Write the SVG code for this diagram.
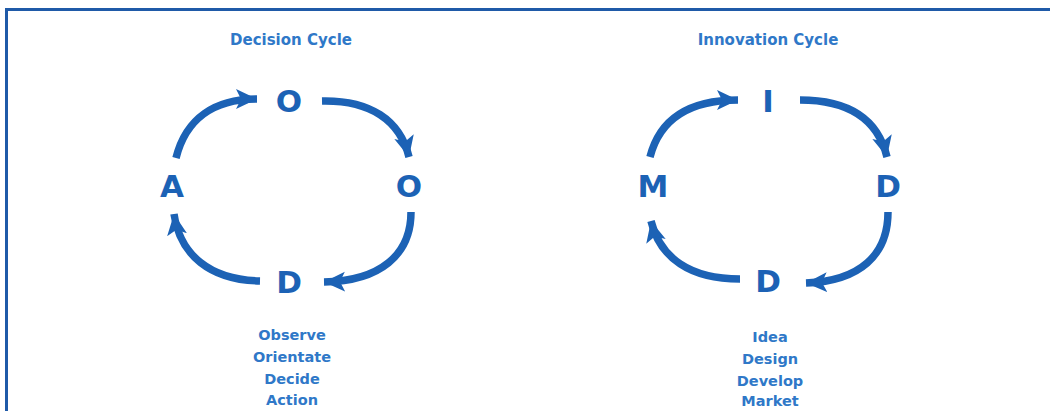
<svg xmlns="http://www.w3.org/2000/svg" width="1050" height="411" viewBox="0 0 1050 411">
<defs>
<style>
.title{font-family:"DejaVu Sans",Verdana,sans-serif;font-weight:bold;font-size:15px;fill:#2f78c8;text-anchor:middle}
.big{font-family:"DejaVu Sans",Verdana,sans-serif;font-weight:bold;font-size:31px;fill:#1c62b5;text-anchor:middle}
.list{font-family:"DejaVu Sans",Verdana,sans-serif;font-weight:bold;font-size:14.5px;fill:#2f78c8;text-anchor:middle}
.arc{fill:none;stroke:#1c62b5;stroke-width:7.5;stroke-linecap:butt;marker-end:url(#ah)}
</style>
<marker id="ah" markerUnits="userSpaceOnUse" markerWidth="24" markerHeight="24" viewBox="0 0 24 24" refX="21" refY="12" orient="auto">
<path d="M0,2 L21,12 L0,22 L5,12 Z" fill="#1c62b5"/>
</marker>
</defs>
<rect width="1050" height="411" fill="#ffffff"/>
<path d="M6.5,411 V9.5 H1050" fill="none" stroke="#1f5aa8" stroke-width="3"/>

<g id="decision-title"><text class="title" x="291" y="45">Decision Cycle</text></g>
<g id="node-observe"><text class="big" x="289" y="112">O</text></g>
<g id="node-orientate"><text class="big" x="409" y="197">O</text></g>
<g id="node-decide"><text class="big" x="289" y="293">D</text></g>
<g id="node-action"><text class="big" x="172" y="197">A</text></g>
<g id="decision-list">
<text class="list" x="292" y="340">Observe</text>
<text class="list" x="292" y="362">Orientate</text>
<text class="list" x="292" y="384">Decide</text>
<text class="list" x="292" y="405">Action</text>
</g>

<g id="innovation-title"><text class="title" x="768" y="45">Innovation Cycle</text></g>
<g id="node-idea"><text class="big" x="768" y="112">I</text></g>
<g id="node-design"><text class="big" x="888" y="197">D</text></g>
<g id="node-develop"><text class="big" x="768" y="292">D</text></g>
<g id="node-market"><text class="big" x="653" y="197">M</text></g>
<g id="innovation-list">
<text class="list" x="770" y="342">Idea</text>
<text class="list" x="770" y="364">Design</text>
<text class="list" x="770" y="386">Develop</text>
<text class="list" x="770" y="406">Market</text>
</g>

<g id="connectors">
<path class="arc" d="M176,158 C186,118 215,99 257,99"/>
<path class="arc" d="M322,101 C370,100 400,120 409,157"/>
<path class="arc" d="M411,212 C411,255 380,281 324,282"/>
<path class="arc" d="M260,281 C210,280 180,255 174,214"/>
<path class="arc" d="M650,157 C660,118 690,100 738,100"/>
<path class="arc" d="M800,100 C850,100 878,120 887,157"/>
<path class="arc" d="M888,212 C888,255 860,281 806,283"/>
<path class="arc" d="M740,279 C690,279 660,258 651,221"/>
</g>
</svg>
